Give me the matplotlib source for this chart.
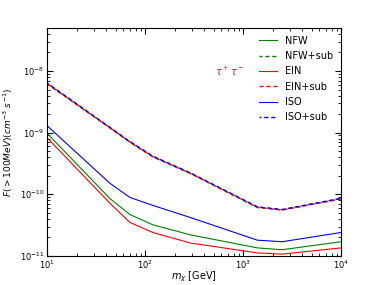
import matplotlib
matplotlib.use("Agg")
import matplotlib.pyplot as plt

# dark matter mass grid (GeV)
mass = [10, 44, 70, 120, 290, 1400, 2500, 10000]

# F(>100 MeV) upper limits, tau+ tau- channel
nfw = [9.8e-10, 8.5e-11, 4.7e-11, 3.2e-11, 2.2e-11, 1.35e-11, 1.26e-11, 1.7e-11]
ein = [8.3e-10, 7.1e-11, 3.5e-11, 2.4e-11, 1.62e-11, 1.12e-11, 1.07e-11, 1.35e-11]
iso = [1.3e-9, 1.5e-10, 8.9e-11, 6.6e-11, 4.2e-11, 1.8e-11, 1.7e-11, 2.4e-11]

nfw_sub = [6.3e-9, 1.2e-9, 7.1e-10, 4.1e-10, 2.2e-10, 6.2e-11, 5.6e-11, 8.5e-11]
ein_sub = [6.2e-9, 1.19e-9, 7.0e-10, 4.05e-10, 2.18e-10, 6.1e-11, 5.55e-11, 8.4e-11]
iso_sub = [6.4e-9, 1.21e-9, 7.15e-10, 4.15e-10, 2.22e-10, 6.25e-11, 5.65e-11, 8.6e-11]

fig = plt.figure(figsize=(3.79, 2.85), dpi=100)
ax = fig.add_axes([0.124, 0.102, 0.776, 0.800])

lw = 0.8
ax.plot(mass, nfw, color='g', lw=lw, label='NFW')
ax.plot(mass, nfw_sub, color='g', lw=1.0, ls=(0.8, (3, 2)), label='NFW+sub')
ax.plot(mass, ein, color='r', lw=lw, label='EIN')
ax.plot(mass, ein_sub, color='r', lw=1.0, ls=(0, (3, 2)), label='EIN+sub')
ax.plot(mass, iso, color='b', lw=lw, label='ISO')
ax.plot(mass, iso_sub, color='b', lw=1.0, ls=(1.6, (3, 2)), label='ISO+sub')

ax.set_xscale('log')
ax.set_yscale('log')
ax.set_xlim(10, 1e4)
ax.set_ylim(1e-11, 5e-8)

ax.tick_params(which='both', direction='in', top=True, right=True, labelsize=6)
ax.tick_params(which='major', length=4, pad=2)
ax.tick_params(which='minor', length=2)

ax.set_xlabel(r'$m_\chi$ [GeV]', fontsize=7, labelpad=-1)
ax.set_ylabel(r'$F(>100MeV)(cm^{-3}\ s^{-1})$', fontsize=6.5, labelpad=3)

ax.text(0.57, 0.79, r'$\tau^+\tau^-$', transform=ax.transAxes, color='#b03030', fontsize=7)

leg = ax.legend(loc='upper right', fontsize=7, frameon=False, handlelength=1.9,
                labelspacing=0.55, borderaxespad=0.4)

fig.savefig('out.png', dpi=100)
